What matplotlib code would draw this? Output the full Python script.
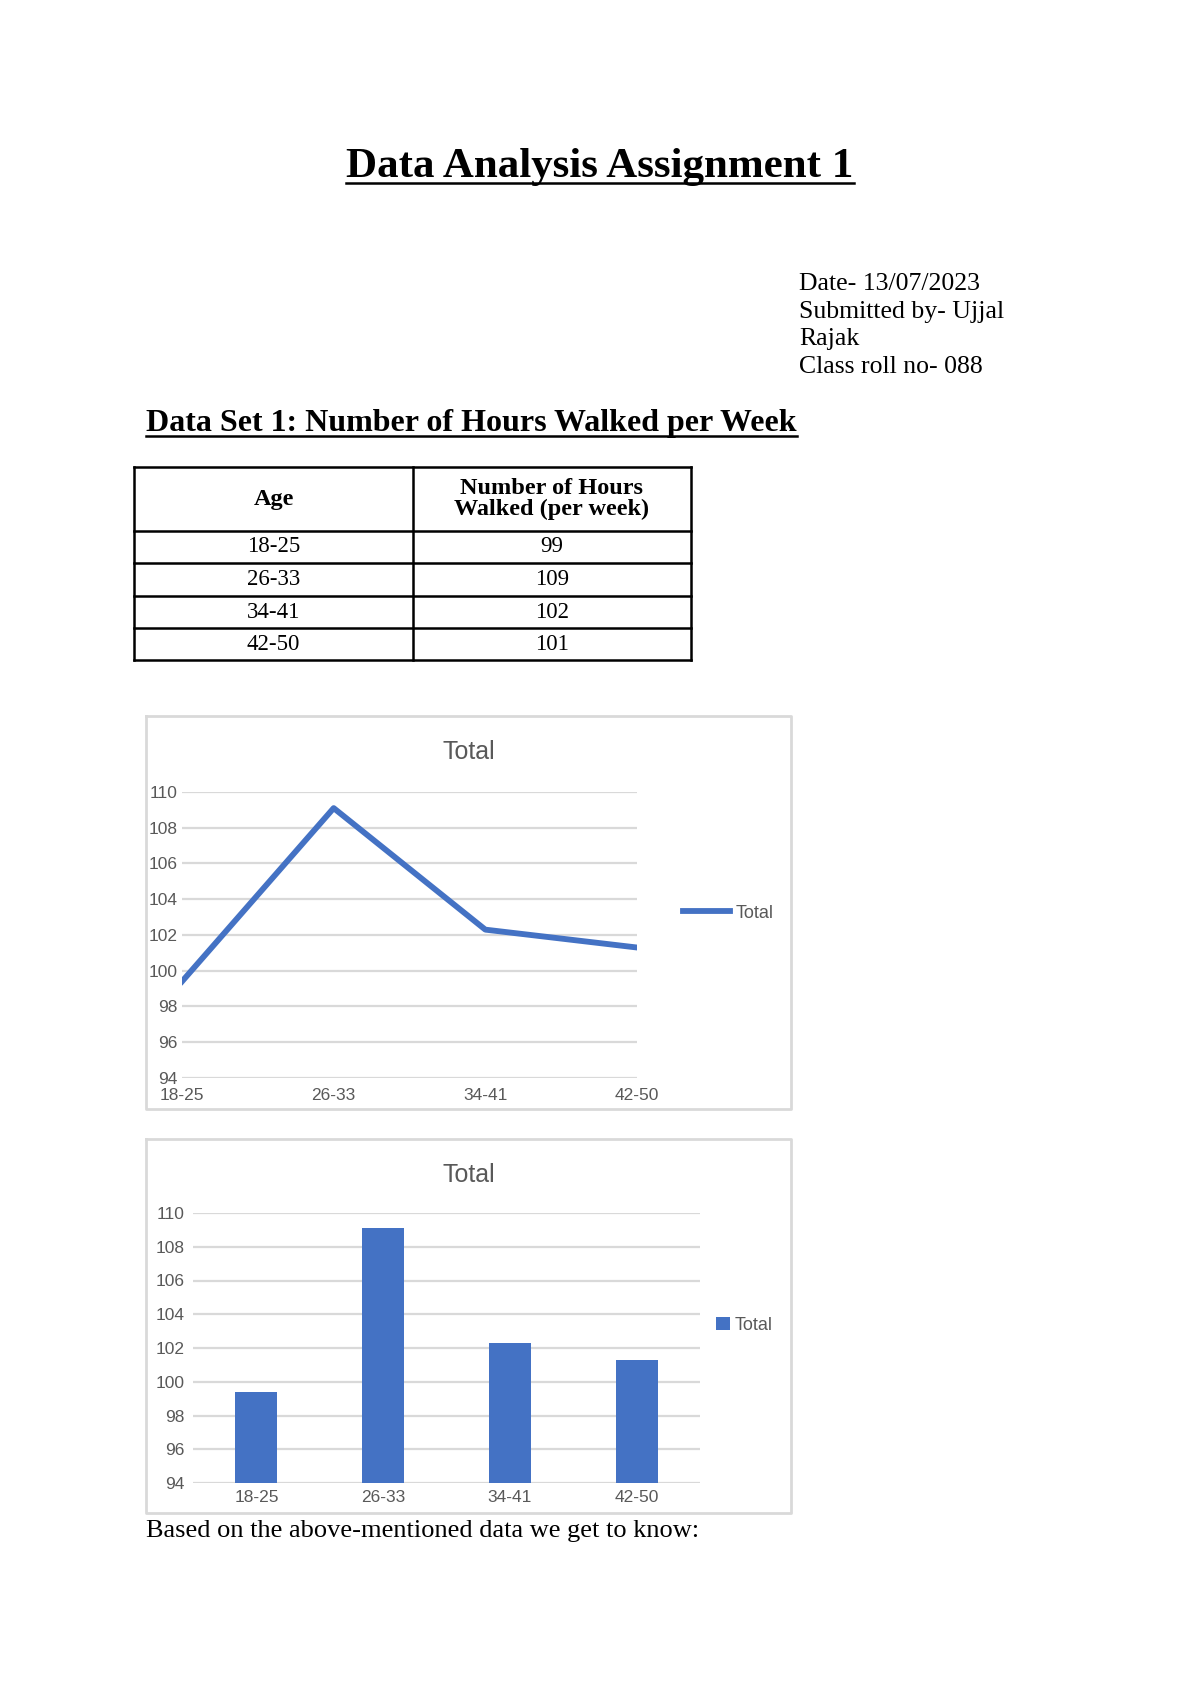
import matplotlib
matplotlib.use("Agg")
import matplotlib.pyplot as plt

# data
ages = ["18-25", "26-33", "34-41", "42-50"]
hours_table = ["99", "109", "102", "101"]
hours_chart = [99.4, 109.1, 102.3, 101.3]
y_ticks = [94, 96, 98, 100, 102, 104, 106, 108, 110]
info_lines = ["Date- 13/07/2023", "Submitted by- Ujjal", "Rajak", "Class roll no- 088"]

W, H = 1200, 1698
BLUE = "#4472C4"
GRID = "#d9d9d9"
LABEL = "#595959"
SERIF = ["Liberation Serif", "DejaVu Serif"]
SANS = ["Liberation Sans Narrow", "Liberation Sans", "DejaVu Sans"]

fig = plt.figure(figsize=(W / 100, H / 100), dpi=100)
page = fig.add_axes([0, 0, 1, 1])
page.set_xlim(0, W)
page.set_ylim(H, 0)
page.axis("off")


def box(x0, y0, x1, y1):
    # pixel box (top-left origin) -> figure fraction rect
    return [x0 / W, 1 - y1 / H, (x1 - x0) / W, (y1 - y0) / H]


def underlined(x, y, s, size, ha="left", gap=5):
    t = page.text(x, y, s, fontsize=size, fontweight="bold", family=SERIF,
                  ha=ha, va="baseline")
    fig.canvas.draw()
    bb = t.get_window_extent().transformed(page.transData.inverted())
    page.plot([bb.x0, bb.x1], [y + gap, y + gap], color="black", lw=1.8)


# header texts
underlined(600, 177, "Data Analysis Assignment 1", 31, ha="center", gap=6)
for i, line in enumerate(info_lines):
    page.text(799, 290 + i * 27.6, line, fontsize=18.5, family=SERIF, va="baseline")
underlined(146, 431, "Data Set 1: Number of Hours Walked per Week", 23, gap=5)

# table
tx0, tmid, tx1 = 134, 413, 691
rows_y = [467, 531, 563, 596, 628, 660]
for yy in rows_y:
    page.plot([tx0, tx1], [yy, yy], color="black", lw=1.8)
for xx in (tx0, tmid, tx1):
    page.plot([xx, xx], [rows_y[0], rows_y[-1]], color="black", lw=1.8)
page.text((tx0 + tmid) / 2, (rows_y[0] + rows_y[1]) / 2, "Age", fontsize=17.5,
          fontweight="bold", family=SERIF, ha="center", va="center")
page.text((tmid + tx1) / 2, (rows_y[0] + rows_y[1]) / 2,
          "Number of Hours\nWalked (per week)", fontsize=17.5, fontweight="bold",
          family=SERIF, ha="center", va="center", linespacing=1.0)
for i, (a, h) in enumerate(zip(ages, hours_table)):
    yc = (rows_y[i + 1] + rows_y[i + 2]) / 2
    page.text((tx0 + tmid) / 2, yc, a, fontsize=16.5, family=SERIF, ha="center", va="center")
    page.text((tmid + tx1) / 2, yc, h, fontsize=16.5, family=SERIF, ha="center", va="center")

# chart frames
frames = [(146, 716, 791, 1109), (146, 1139, 791, 1513)]
for (x0, y0, x1, y1) in frames:
    page.plot([x0, x1, x1, x0, x0], [y0, y0, y1, y1, y0], color=GRID, lw=2)


def style_axis(ax, ypad):
    ax.set_ylim(94, 110)
    ax.set_yticks(y_ticks)
    ax.grid(axis="y", color=GRID, lw=1.6)
    ax.set_axisbelow(True)
    for s in ax.spines.values():
        s.set_visible(False)
    ax.tick_params(length=0, labelsize=12.5, labelcolor=LABEL)
    ax.tick_params(axis="y", pad=ypad)
    for lab in ax.get_xticklabels() + ax.get_yticklabels():
        lab.set_family(SANS)


# line chart
ax1 = fig.add_axes(box(182, 792, 637, 1078))
x = list(range(len(ages)))
ax1.plot(x, hours_chart, color=BLUE, lw=4.2, label="Total")
ax1.set_xlim(0, 3)
ax1.set_xticks(x)
ax1.set_xticklabels(ages)
style_axis(ax1, 3)
ax1.tick_params(axis="x", pad=7)
ax1.legend(loc="center left", bbox_to_anchor=(683, 913), bbox_transform=page.transData,
           frameon=False, borderpad=0, borderaxespad=0, handlelength=2.6,
           handletextpad=0.3, prop={"family": SANS, "size": 13}, labelcolor=LABEL)
page.text((frames[0][0] + frames[0][2]) / 2, 752, "Total", fontsize=18, color=LABEL,
          family=SANS, ha="center", va="center")

# bar chart
ax2 = fig.add_axes(box(193, 1213, 700, 1483))
ax2.bar(x, [h - 94 for h in hours_chart], bottom=94, width=0.33, color=BLUE, label="Total")
ax2.set_xlim(-0.5, 3.5)
ax2.set_xticks(x)
ax2.set_xticklabels(ages)
style_axis(ax2, 6)
ax2.tick_params(axis="x", pad=5)
ax2.legend(loc="center left", bbox_to_anchor=(716, 1325), bbox_transform=page.transData,
           frameon=False, borderpad=0, borderaxespad=0, handlelength=0.75, handleheight=0.75,
           handletextpad=0.3, prop={"family": SANS, "size": 13}, labelcolor=LABEL)
page.text((frames[1][0] + frames[1][2]) / 2, 1175, "Total", fontsize=18, color=LABEL,
          family=SANS, ha="center", va="center")

page.text(146, 1537, "Based on the above-mentioned data we get to know:", fontsize=19,
          family=SERIF, va="baseline")

fig.savefig("out.png", dpi=100)
